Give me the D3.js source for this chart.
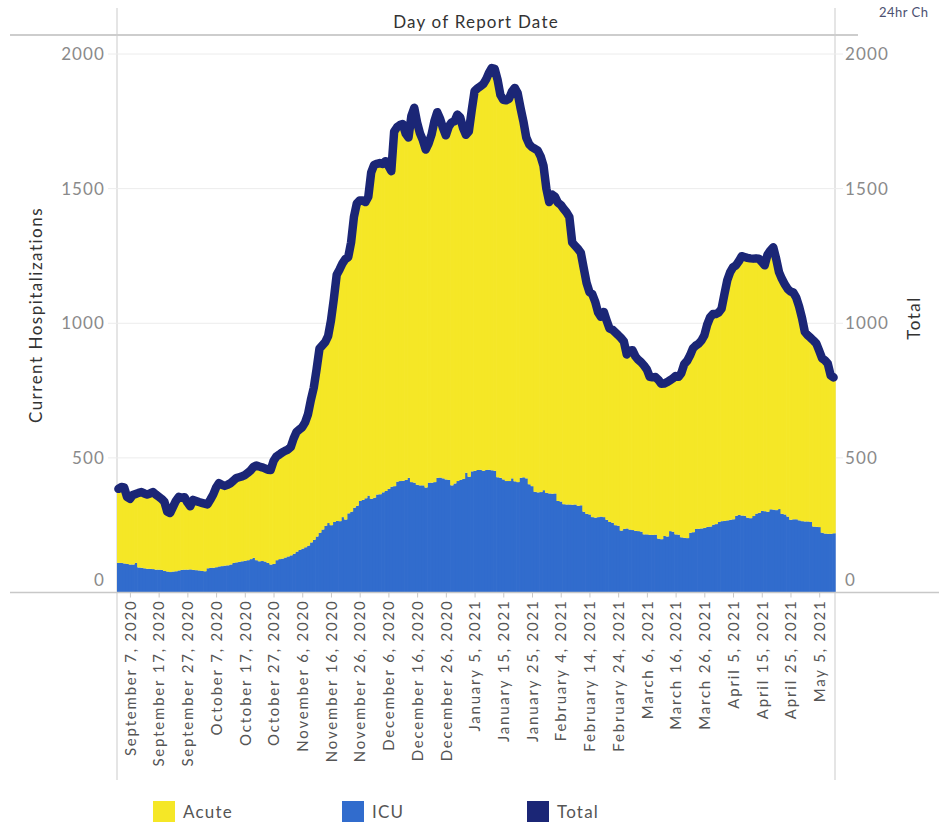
<!DOCTYPE html>
<html>
<head>
<meta charset="utf-8">
<script src="https://cdn.jsdelivr.net/npm/d3@7"></script>
<style>
  html, body { margin: 0; padding: 0; background: #fff; overflow: hidden; }
  svg { display: block; font-family: Lato, "Open Sans", sans-serif; }
</style>
</head>
<body>
<svg id="chart" width="939" height="823"></svg>
<script>
// Daily series, one value per report date starting at startDate
const startDate = "2020-09-03";

const total = [
  385,392,390,355,348,362,366,370,373,368,
  364,368,373,364,356,348,337,300,295,318,
  340,355,352,354,335,320,344,340,336,333,
  330,327,345,364,390,406,400,396,400,406,
  415,425,428,431,436,444,453,466,472,468,
  465,461,456,455,488,505,512,520,526,531,
  540,572,596,605,614,632,662,715,760,830,
  906,918,930,952,1010,1090,1180,1200,1222,1238,
  1245,1300,1395,1445,1456,1456,1450,1470,1560,1588,
  1592,1595,1592,1602,1585,1565,1712,1728,1736,1740,
  1705,1690,1770,1800,1745,1705,1680,1645,1668,1700,
  1750,1784,1760,1725,1698,1730,1746,1750,1775,1765,
  1725,1700,1712,1790,1862,1872,1880,1888,1905,1930,
  1948,1945,1905,1848,1830,1828,1834,1860,1874,1855,
  1800,1750,1690,1665,1654,1648,1641,1620,1585,1500,
  1450,1478,1470,1448,1440,1425,1412,1395,1300,1288,
  1276,1262,1205,1150,1116,1108,1080,1040,1024,1042,
  1010,980,976,966,956,945,932,884,898,900,
  877,864,855,843,828,801,799,800,790,775,
  776,781,788,795,804,801,815,848,860,880,
  906,917,924,936,955,995,1022,1034,1034,1040,
  1054,1108,1160,1190,1208,1215,1230,1249,1246,1243,
  1241,1240,1241,1240,1228,1215,1255,1270,1282,1240,
  1190,1165,1145,1128,1118,1114,1095,1062,1020,968,
  955,946,936,925,898,870,862,850,806,799
];

const icu = [
  110,110,108,106,104,104,110,93,92,90,
  88,88,87,85,85,84,80,78,76,78,
  79,82,84,85,85,86,84,83,82,80,
  79,90,92,92,94,97,98,100,101,104,
  110,112,114,116,118,120,124,129,120,116,
  117,115,110,104,106,120,124,126,130,134,
  138,144,152,158,163,168,174,186,196,208,
  222,234,248,258,250,262,266,265,280,271,
  294,300,315,322,340,344,350,360,348,352,
  364,365,372,377,385,393,395,412,414,415,
  418,426,410,408,400,398,398,390,408,408,
  410,426,427,424,420,418,398,405,414,418,
  422,445,430,450,452,455,456,452,455,456,
  454,452,428,426,420,414,414,424,413,410,
  426,428,424,402,395,374,372,373,380,370,
  368,367,368,340,338,328,327,327,326,327,
  322,324,300,292,290,280,278,280,282,280,
  270,262,259,250,248,230,236,238,234,232,
  229,228,226,216,216,214,214,215,200,198,
  210,208,228,226,216,215,205,203,202,222,
  224,236,237,238,240,244,245,252,254,262,
  265,266,268,270,272,285,288,286,285,278,
  276,284,293,296,303,302,300,309,308,306,
  310,292,290,282,270,272,272,268,265,264,
  264,262,245,244,243,222,219,218,218,220
];

const dateTickLabels = [
  "September 7, 2020","September 17, 2020","September 27, 2020",
  "October 7, 2020","October 17, 2020","October 27, 2020",
  "November 6, 2020","November 16, 2020","November 26, 2020",
  "December 6, 2020","December 16, 2020","December 26, 2020",
  "January 5, 2021","January 15, 2021","January 25, 2021",
  "February 4, 2021","February 14, 2021","February 24, 2021",
  "March 6, 2021","March 16, 2021","March 26, 2021",
  "April 5, 2021","April 15, 2021","April 25, 2021","May 5, 2021"
];

const valueTicks = [0, 500, 1000, 1500, 2000];
const legendNames = ["Acute", "ICU", "Total"];
const colors = { Acute: "#F5E726", ICU: "#316CCD", Total: "#1B2676" };

(function draw() {
  const svg = d3.select("#chart");
  const plotLeft = 117, plotRight = 835, plotTop = 54, plotBottom = 592.5;

  const parseISO = d3.utcParse("%Y-%m-%d");
  const parseLabel = d3.utcParse("%B %d, %Y");
  const day0 = parseISO(startDate);
  const rows = total.map((t, i) => ({
    date: d3.utcDay.offset(day0, i), ICU: icu[i], Acute: t - icu[i], Total: t
  }));

  const x = d3.scaleUtc()
    .domain([day0, d3.utcDay.offset(day0, rows.length)])
    .range([plotLeft, plotRight]);
  const y = d3.scaleLinear().domain([0, 2000]).range([plotBottom, plotTop]);
  const mid = d => d3.utcHour.offset(d, 12);

  // pane frame
  const frame = svg.append("g");
  [plotLeft, plotRight].forEach(px => {
    frame.append("line").attr("x1", px).attr("x2", px).attr("y1", 8).attr("y2", 780)
      .attr("stroke", "#d4d4d4").attr("stroke-width", 1.2);
  });
  frame.append("line").attr("x1", 10).attr("x2", 858).attr("y1", 35).attr("y2", 35)
    .attr("stroke", "#cdcdcd").attr("stroke-width", 2);

  // header
  svg.append("text").attr("x", (plotLeft + plotRight) / 2).attr("y", 28)
    .attr("text-anchor", "middle").attr("font-size", 17).attr("letter-spacing", 1.2)
    .attr("fill", "#333")
    .text("Day of Report Date");
  svg.append("text").attr("x", 879).attr("y", 17)
    .attr("font-size", 13).attr("letter-spacing", 0.5).attr("fill", "#4b5070")
    .text("24hr Ch");

  // gridlines
  const grid = svg.append("g");
  valueTicks.filter(v => v > 0).forEach(v => {
    grid.append("line").attr("x1", 108).attr("x2", 843)
      .attr("y1", y(v)).attr("y2", y(v))
      .attr("stroke", "#ececec").attr("stroke-width", 1);
  });

  // stacked daily bars: ICU at the base, Acute above it
  const layers = d3.stack().keys(["ICU", "Acute"])(rows);
  const bars = svg.append("g");
  layers.forEach(layer => {
    bars.append("g").attr("fill", colors[layer.key])
      .selectAll("rect").data(layer).join("rect")
      .attr("x", d => x(d.data.date))
      .attr("width", d => x(d3.utcDay.offset(d.data.date, 1)) - x(d.data.date) + 0.7)
      .attr("y", d => y(d[1]))
      .attr("height", d => y(d[0]) - y(d[1]));
  });

  // total line
  const line = d3.line().x(d => x(mid(d.date))).y(d => y(d.Total));
  svg.append("path").datum(rows)
    .attr("d", line)
    .attr("fill", "none")
    .attr("stroke", colors.Total)
    .attr("stroke-width", 8.5)
    .attr("stroke-linejoin", "round")
    .attr("stroke-linecap", "round");

  // bottom baseline
  svg.append("line").attr("x1", 10).attr("x2", 939).attr("y1", plotBottom).attr("y2", plotBottom)
    .attr("stroke", "#c8c8c8").attr("stroke-width", 1.5);

  // value axes on both sides
  const yLabelY = v => Math.min(y(v), 580);
  [[105, "end"], [845, "start"]].forEach(([lx, anchor]) => {
    const g = svg.append("g");
    valueTicks.forEach(v => {
      g.append("text").attr("x", lx).attr("y", yLabelY(v)).attr("dy", "0.35em")
        .attr("text-anchor", anchor).attr("font-size", 17).attr("fill", "#8a8a8a")
        .attr("letter-spacing", 1.1).text(v);
    });
  });

  svg.append("text")
    .attr("transform", "translate(42,315) rotate(-90)")
    .attr("text-anchor", "middle").attr("font-size", 17).attr("letter-spacing", 1.5)
    .attr("fill", "#333")
    .text("Current Hospitalizations");
  svg.append("text")
    .attr("transform", "translate(920,318) rotate(-90)")
    .attr("text-anchor", "middle").attr("font-size", 17).attr("letter-spacing", 1.5)
    .attr("fill", "#333")
    .text("Total");

  // date axis, clipped to the pane below the baseline
  svg.append("defs").append("clipPath").attr("id", "dateClip")
    .append("rect").attr("x", plotLeft).attr("y", 0)
    .attr("width", plotRight - plotLeft).attr("height", 780 - plotBottom);

  const tickDates = dateTickLabels.map(s => parseLabel(s));
  const xAxis = d3.axisBottom(x)
    .tickValues(tickDates.map(mid))
    .tickSize(5)
    .tickFormat((d, i) => dateTickLabels[i]);

  const xg = svg.append("g").attr("transform", `translate(0,${plotBottom})`)
    .attr("clip-path", "url(#dateClip)")
    .call(xAxis);
  xg.select(".domain").remove();
  xg.selectAll(".tick line").attr("stroke", "#c8c8c8");
  xg.selectAll(".tick text")
    .attr("transform", "rotate(-90)")
    .attr("text-anchor", "end")
    .attr("x", -7).attr("y", 0).attr("dy", "0.35em")
    .attr("font-family", "Lato, 'Open Sans', sans-serif")
    .attr("font-size", 15).attr("letter-spacing", 1.8)
    .attr("fill", "#555");

  // legend
  const legendX = [153, 342, 527];
  const legend = svg.append("g");
  legendNames.forEach((name, i) => {
    legend.append("rect").attr("x", legendX[i]).attr("y", 801)
      .attr("width", 22).attr("height", 21).attr("fill", colors[name]);
    legend.append("text").attr("x", legendX[i] + 30).attr("y", 818)
      .attr("font-size", 17).attr("letter-spacing", 1.2).attr("fill", "#555").text(name);
  });
})();
</script>
</body>
</html>
